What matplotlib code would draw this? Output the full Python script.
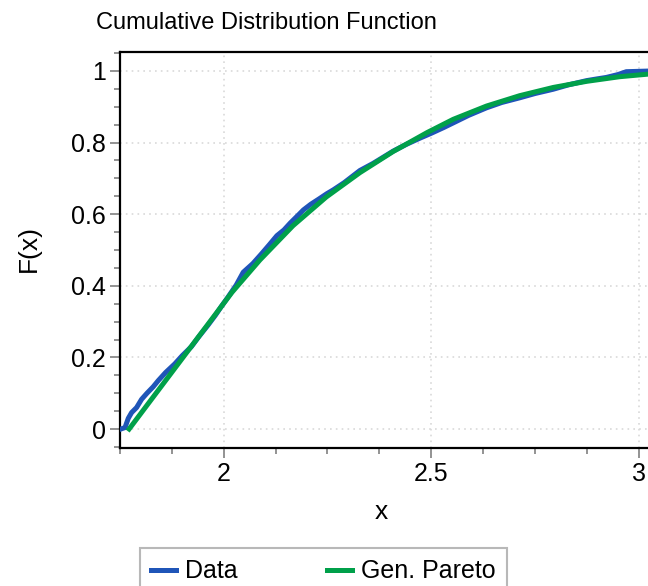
import matplotlib
matplotlib.use("Agg")
import matplotlib.pyplot as plt
from matplotlib.ticker import MultipleLocator, FormatStrFormatter

plt.rcParams['font.family'] = ['Liberation Sans', 'DejaVu Sans']

data_x = [1.752, 1.762, 1.770, 1.778, 1.790, 1.802, 1.815, 1.830, 1.842, 1.860,
          1.882, 1.900, 1.922, 1.940, 1.962, 1.980, 1.994, 2.010, 2.030, 2.047,
          2.070, 2.090, 2.110, 2.128, 2.145, 2.160, 2.180, 2.192, 2.210, 2.230,
          2.248, 2.264, 2.290, 2.328, 2.360, 2.408, 2.440, 2.472, 2.500, 2.530,
          2.553, 2.590, 2.633, 2.670, 2.713, 2.750, 2.794, 2.830, 2.874, 2.900,
          2.922, 2.950, 2.970, 3.030]
data_F = [0.000, 0.004, 0.030, 0.046, 0.060, 0.083, 0.100, 0.118, 0.135, 0.158,
          0.182, 0.205, 0.230, 0.258, 0.290, 0.318, 0.342, 0.368, 0.402, 0.438,
          0.462, 0.488, 0.515, 0.540, 0.556, 0.575, 0.598, 0.612, 0.628, 0.643,
          0.657, 0.668, 0.688, 0.722, 0.742, 0.776, 0.795, 0.812, 0.826, 0.842,
          0.855, 0.876, 0.897, 0.912, 0.925, 0.937, 0.949, 0.961, 0.973, 0.978,
          0.982, 0.990, 0.998, 1.000]

# Fitted generalized Pareto CDF
fit_x = [1.772, 1.820, 1.870, 1.920, 1.970, 2.020, 2.087, 2.167, 2.247, 2.328,
         2.408, 2.490, 2.553, 2.633, 2.713, 2.794, 2.874, 2.954, 3.030]
fit_F = [0.000, 0.074, 0.151, 0.228, 0.305, 0.382, 0.472, 0.568, 0.648, 0.716,
         0.775, 0.828, 0.865, 0.902, 0.931, 0.954, 0.971, 0.984, 0.992]

fig = plt.figure(figsize=(6.48, 5.86), dpi=100)
ax = fig.add_axes([120 / 648, 138 / 586, 530 / 648, 396 / 586])

ax.plot(data_x, data_F, color='#1f55b8', lw=3.6, label='Data', zorder=3)
ax.plot(fit_x, fit_F, color='#00a04a', lw=3.6, label='Gen. Pareto', zorder=4)

ax.set_xlim(1.75, 1.75 + 530 / 415)
ax.set_ylim(-0.053, 1.053)

ax.xaxis.set_major_locator(MultipleLocator(0.5))
ax.xaxis.set_minor_locator(MultipleLocator(0.125))
ax.yaxis.set_major_locator(MultipleLocator(0.2))
ax.yaxis.set_minor_locator(MultipleLocator(0.05))
ax.xaxis.set_major_formatter(FormatStrFormatter('%g'))
ax.yaxis.set_major_formatter(FormatStrFormatter('%g'))

ax.tick_params(which='major', length=7, width=1.2, color='#808080',
               labelsize=18, pad=3)
ax.tick_params(which='minor', length=4.3, width=1.2, color='#808080')

ax.grid(True, which='major', linestyle=(0, (1, 2.5)), linewidth=1.2,
        color='#d9d9d9')
ax.set_axisbelow(True)

for side in ['left', 'bottom', 'top']:
    ax.spines[side].set_linewidth(1.6)
    ax.spines[side].set_color('black')
ax.spines['right'].set_visible(False)

ax.set_xlabel('x', fontsize=19, va='center')
ax.xaxis.set_label_coords((381.7 - 120) / 530, (448 - 512) / 396)
ax.set_ylabel('F(x)', fontsize=19, va='center', ha='center')
ax.yaxis.set_label_coords((29 - 120) / 530, (448 - 248) / 396)

fig.text(266 / 648, 1 - 23 / 586, 'Cumulative Distribution Function',
         fontsize=17, ha='center', va='center')

leg = fig.legend(loc='upper left', bbox_to_anchor=(140 / 648, 1 - 548 / 586),
                 ncol=2, fontsize=18, handlelength=1.0, handletextpad=0.36,
                 columnspacing=3.55, borderpad=0.45, borderaxespad=0,
                 fancybox=False, frameon=True)
leg.get_frame().set_edgecolor('#a6a6a6')
leg.get_frame().set_linewidth(1.5)

fig.savefig('out.png', dpi=100)
